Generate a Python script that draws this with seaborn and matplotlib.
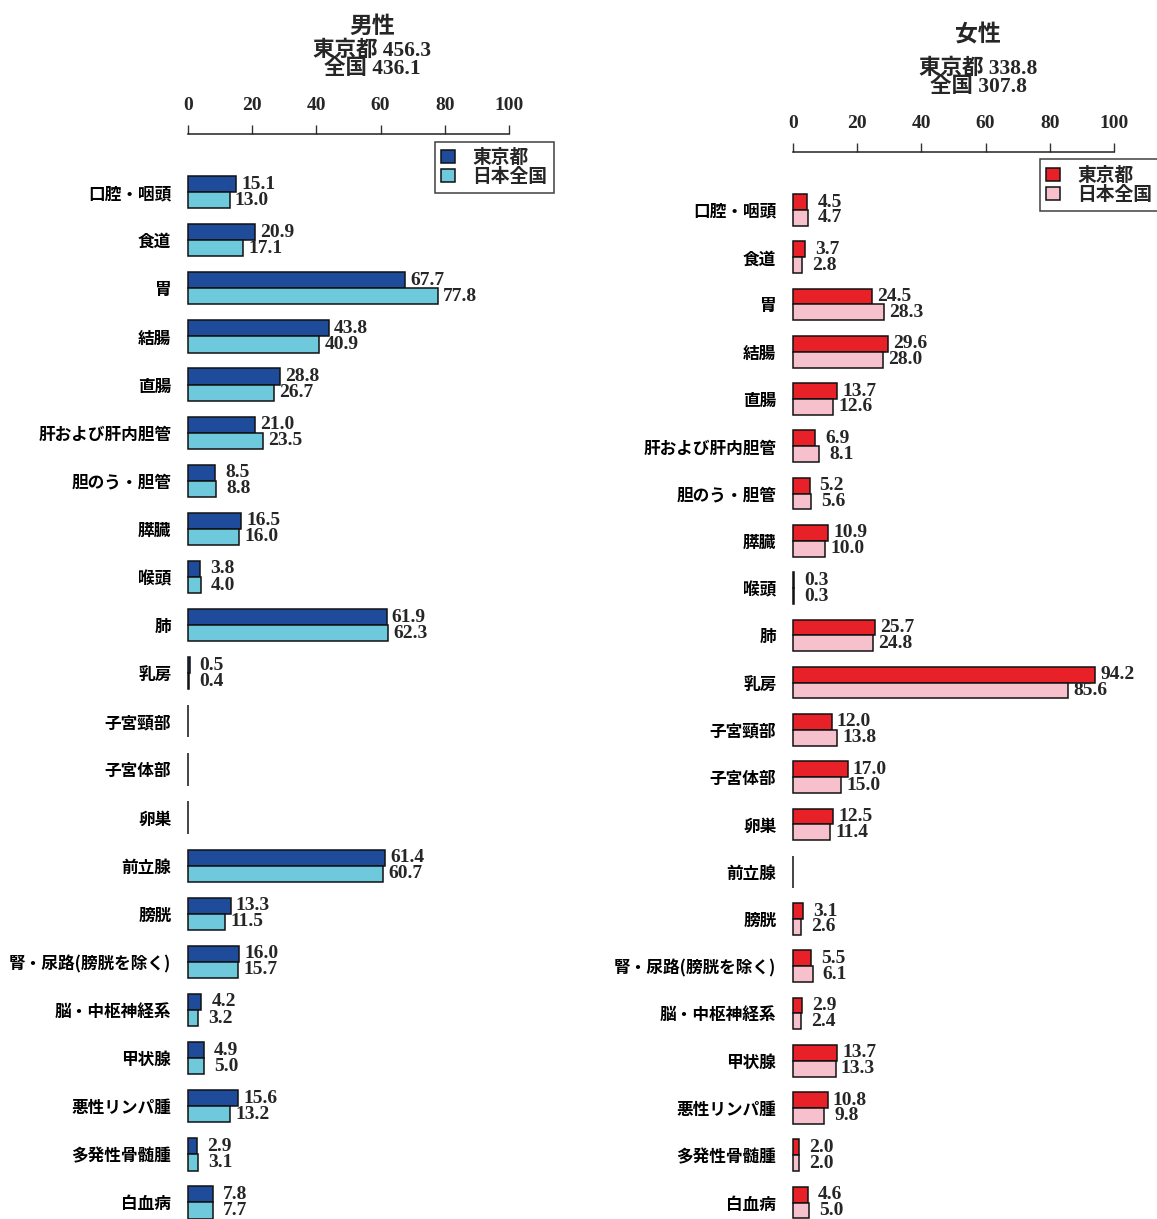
import numpy as np
import pandas as pd
import seaborn as sns
import matplotlib
matplotlib.use("Agg")
import matplotlib.pyplot as plt

# data
sites = ["口腔・咽頭", "食道", "胃", "結腸", "直腸", "肝および肝内胆管", "胆のう・胆管",
         "膵臓", "喉頭", "肺", "乳房", "子宮頸部", "子宮体部", "卵巣", "前立腺", "膀胱",
         "腎・尿路(膀胱を除く)", "脳・中枢神経系", "甲状腺", "悪性リンパ腫", "多発性骨髄腫", "白血病"]
regions = ["東京都", "日本全国"]

male_tokyo = [15.1, 20.9, 67.7, 43.8, 28.8, 21.0, 8.5, 16.5, 3.8, 61.9, 0.5,
              np.nan, np.nan, np.nan, 61.4, 13.3, 16.0, 4.2, 4.9, 15.6, 2.9, 7.8]
male_japan = [13.0, 17.1, 77.8, 40.9, 26.7, 23.5, 8.8, 16.0, 4.0, 62.3, 0.4,
              np.nan, np.nan, np.nan, 60.7, 11.5, 15.7, 3.2, 5.0, 13.2, 3.1, 7.7]
female_tokyo = [4.5, 3.7, 24.5, 29.6, 13.7, 6.9, 5.2, 10.9, 0.3, 25.7, 94.2,
                12.0, 17.0, 12.5, np.nan, 3.1, 5.5, 2.9, 13.7, 10.8, 2.0, 4.6]
female_japan = [4.7, 2.8, 28.3, 28.0, 12.6, 8.1, 5.6, 10.0, 0.3, 24.8, 85.6,
                13.8, 15.0, 11.4, np.nan, 2.6, 6.1, 2.4, 13.3, 9.8, 2.0, 5.0]

male_total = ["456.3", "436.1"]
female_total = ["338.8", "307.8"]

male_colors = {"東京都": "#1f4b9b", "日本全国": "#6fc9dc"}
female_colors = {"東京都": "#e82028", "日本全国": "#f6c1cc"}

CJK = "Noto Sans CJK JP"
MIX = ["Liberation Serif", CJK]

sns.set_theme(style="white")
plt.rcParams["font.family"] = [CJK, "DejaVu Sans"]

fig = plt.figure(figsize=(11.57, 12.19), dpi=100)
W, H = 1157, 1219


def panel(left_px, top_px, spacing, tokyo, japan, colors, title, totals, title_x, title_ys):
    ax = fig.add_axes([left_px / W, 0, 321 / W, (H - top_px) / H])
    df = pd.DataFrame({
        "site": sites * 2,
        "region": [regions[0]] * len(sites) + [regions[1]] * len(sites),
        "value": list(tokyo) + list(japan),
    })
    df["plot"] = df["value"].fillna(0)
    sns.barplot(data=df, x="plot", y="site", hue="region", order=sites, hue_order=regions,
                palette=colors, orient="h", width=0.67, saturation=1, errorbar=None,
                edgecolor="#111111", linewidth=1.1, ax=ax, legend=False)
    for cont, reg in zip(ax.containers, regions):
        vals = df.loc[df["region"] == reg, "value"].to_list()
        labels = ["" if np.isnan(v) else f"{v:.1f}" for v in vals]
        for t in ax.bar_label(cont, labels=labels, padding=16, fontsize=14,
                              fontweight="bold", family="Liberation Serif", clip_on=False):
            t.set_horizontalalignment("center")
        for p in cont:
            p.set_clip_on(False)
    ax.set_xlim(0, 100)
    ax.set_ylim(21 + 16 / spacing + 0.01, -58 / spacing)
    ax.set_xlabel("")
    ax.set_ylabel("")
    ax.xaxis.tick_top()
    ax.set_xticks([0, 20, 40, 60, 80, 100])
    ax.tick_params(axis="x", top=True, direction="out", length=6.5, width=1.0,
                   color="#333333", pad=8)
    ax.tick_params(axis="y", left=False, pad=6)
    for lab in ax.get_xticklabels():
        lab.set_family("Liberation Serif")
        lab.set_fontweight("bold")
        lab.set_fontsize(14)
    for lab in ax.get_yticklabels():
        lab.set_fontweight("bold")
        lab.set_fontsize(12)
        lab.set_color("black")
    for s in ["left", "right", "bottom"]:
        ax.spines[s].set_visible(False)
    ax.spines["top"].set_color("#222222")
    ax.spines["top"].set_linewidth(1.1)
    ax.grid(False)
    ax.set_facecolor("none")

    handles = [plt.Rectangle((0, 0), 1, 1, facecolor=colors[r], edgecolor="#111111", lw=1.1)
               for r in regions]
    leg = ax.legend(handles, regions, loc="upper left", bbox_to_anchor=(0.769, 0.993),
                    borderaxespad=0, frameon=True, fancybox=False, edgecolor="#111111",
                    handlelength=0.75, handleheight=0.75, handletextpad=0.9,
                    labelspacing=0.0, borderpad=0.35,
                    prop={"family": CJK, "weight": "bold", "size": 13.5})
    leg.get_frame().set_linewidth(1.1)

    fig.text(title_x / W, 1 - title_ys[0] / H, title, ha="center", va="center",
             family=MIX, fontweight="bold", fontsize=16.5)
    fig.text(title_x / W, 1 - title_ys[1] / H, f"東京都 {totals[0]}", ha="center",
             va="center", family=MIX, fontweight="bold", fontsize=15.5)
    fig.text(title_x / W, 1 - title_ys[2] / H, f"全国 {totals[1]}", ha="center",
             va="center", family=MIX, fontweight="bold", fontsize=15.5)
    return ax


panel(188, 134, 48.05, male_tokyo, male_japan, male_colors, "男性", male_total, 372, (27, 51, 69))
panel(793, 152, 47.3, female_tokyo, female_japan, female_colors, "女性", female_total, 978, (36, 69, 87))

fig.savefig("out.png", dpi=100, facecolor="white")
